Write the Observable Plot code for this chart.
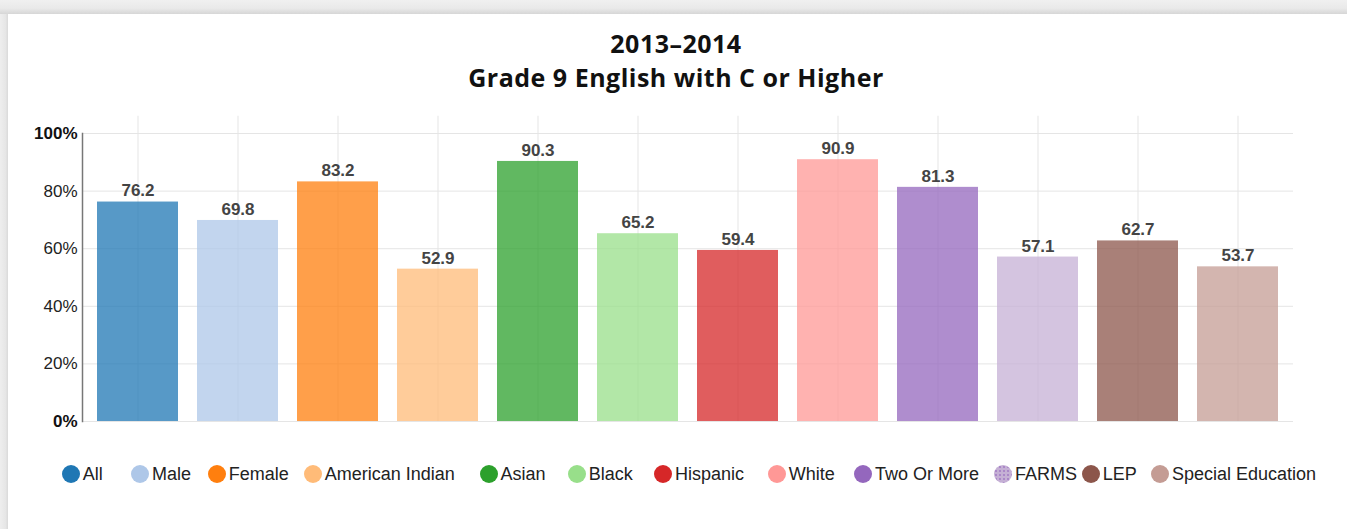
<!DOCTYPE html>
<html>
<head>
<meta charset="utf-8">
<script src="https://cdn.jsdelivr.net/npm/d3@7"></script>
<script src="https://cdn.jsdelivr.net/npm/@observablehq/plot@0.6"></script>
<style>
  html, body { margin: 0; padding: 0; background: #fff; }
  body { width: 1347px; height: 529px; position: relative; overflow: hidden; font-family: "Liberation Sans", Arial, sans-serif; }
  #topband { position: absolute; left: 0; top: 0; width: 1347px; height: 14px;
    background: linear-gradient(to bottom, #f0f0f0 0%, #e9e9e9 60%, #d6d6d6 100%); }
  #leftband { position: absolute; left: 0; top: 14px; width: 8px; height: 515px;
    background: linear-gradient(to right, #eeeeee 0%, #e6e6e6 70%, #d9d9d9 100%); }
  .tline { position: absolute; left: 0; width: 1352px; text-align: center;
    font-family: "Open Sans", sans-serif; font-weight: 700; font-size: 25px; line-height: 25px; height: 25px; color: #111; letter-spacing: 0.5px; }
  #t1 { top: 31px; }
  #t2 { top: 65px; }
  #chart { position: absolute; left: 0; top: 100px; }
  #legend { position: absolute; left: 0; top: 460px; width: 1347px; height: 28px; }
  .li { position: absolute; top: 0; height: 28px; display: flex; align-items: center; font-size: 18px; color: #222; white-space: nowrap; }
  .dot { width: 18px; height: 18px; border-radius: 50%; margin-right: 3px; flex: none; }
</style>
</head>
<body>
<div id="topband"></div>
<div id="leftband"></div>
<div class="tline" id="t1">2013–2014</div>
<div class="tline" id="t2">Grade 9 English with C or Higher</div>
<div id="chart"></div>
<div id="legend"></div>
<script>
// ---- data ----
const categories = ["All", "Male", "Female", "American Indian", "Asian", "Black", "Hispanic", "White", "Two Or More", "FARMS", "LEP", "Special Education"];
const values = [76.2, 69.8, 83.2, 52.9, 90.3, 65.2, 59.4, 90.9, 81.3, 57.1, 62.7, 53.7];
const colors = ["#1f77b4", "#aec7e8", "#ff7f0e", "#ffbb78", "#2ca02c", "#98df8a", "#d62728", "#ff9896", "#9467bd", "#c5b0d5", "#8c564b", "#c49c94"];
const yTicksRegular = [20, 40, 60, 80];
const yTicksBold = [0, 100];

// ---- layout (not data) ----
const legendCenters = [70.8, 140, 216.7, 312.8, 488.5, 576.7, 663, 776.7, 863, 1003, 1090.7, 1160];
const gridTop = 106;

const table = categories.map((c, i) => ({category: c, value: values[i]}));

const chart = Plot.plot({
  width: 1347,
  height: 342,
  marginLeft: 82,
  marginRight: 54,
  marginTop: 33,
  marginBottom: 21,
  style: {background: "transparent", fontFamily: "'Liberation Sans', Arial, sans-serif"},
  x: {domain: categories, paddingInner: 0.19, paddingOuter: 0.15, round: false, axis: null},
  y: {domain: [0, 100]},
  color: {domain: categories, range: colors},
  marks: [
    Plot.ruleY([0, ...yTicksRegular, 100], {stroke: "#e5e5e5", strokeWidth: 1}),
    Plot.ruleX(categories, {x: d => d, y1: 0, y2: gridTop, stroke: "#e5e5e5", strokeWidth: 1}),
    Plot.barY(table, {x: "category", y: "value", fill: "category", fillOpacity: 0.75}),
    Plot.frame({anchor: "left", stroke: "#777", strokeWidth: 1.5}),
    Plot.axisY({ticks: yTicksRegular, tickSize: 0, tickPadding: 5, tickFormat: d => d + "%", fontSize: 17, fill: "#222", label: null}),
    Plot.axisY({ticks: yTicksBold, tickSize: 0, tickPadding: 5, tickFormat: d => d + "%", fontSize: 17, fontWeight: "bold", fill: "#111", label: null}),
    Plot.text(table, {x: "category", y: "value", text: d => d.value.toFixed(1), dy: -11, fontSize: 17, fontWeight: "bold", fill: "#444"})
  ]
});
document.getElementById("chart").appendChild(chart);

// ---- legend ----
const legend = document.getElementById("legend");
categories.forEach((c, i) => {
  const item = document.createElement("div");
  item.className = "li";
  item.style.left = (legendCenters[i] - 9) + "px";
  const dot = document.createElement("span");
  dot.className = "dot";
  dot.style.background = colors[i];
  if (c === "FARMS") {
    dot.style.backgroundImage = "radial-gradient(circle, rgba(148,103,189,0.55) 0.8px, transparent 1.2px)";
    dot.style.backgroundSize = "4px 4px";
    dot.style.backgroundColor = colors[i];
  }
  const label = document.createElement("span");
  label.textContent = c;
  item.appendChild(dot);
  item.appendChild(label);
  legend.appendChild(item);
});
</script>
</body>
</html>
